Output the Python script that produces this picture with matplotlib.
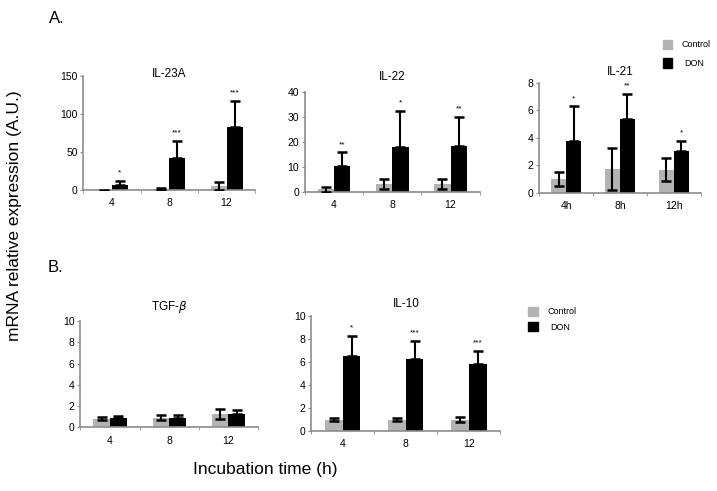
import numpy as np
import matplotlib
matplotlib.use('Agg')
import matplotlib.pyplot as plt

plt.rcParams['font.family'] = ['Liberation Sans', 'DejaVu Sans']

# data: control / DON means and errors per panel
hours = ['4', '8', '12']
hours_h = ['4h', '8h', '12h']

il23_ctrl = [-1, 1, 5]
il23_ctrl_err = [1, 1, 5]
il23_don = [7, 42, 83]
il23_don_err = [5, 23, 34]
il23_stars = ['*', '***', '***']

il22_ctrl = [1, 3, 3]
il22_ctrl_err = [1, 2, 2]
il22_don = [10.5, 18, 18.5]
il22_don_err = [5.5, 14.5, 11.5]
il22_stars = ['**', '*', '**']

il21_ctrl = [1.0, 1.75, 1.7]
il21_ctrl_err = [0.5, 1.5, 0.85]
il21_don = [3.8, 5.4, 3.05]
il21_don_err = [2.5, 1.8, 0.75]
il21_stars = ['*', '**', '*']

tgf_ctrl = [0.8, 0.9, 1.25]
tgf_ctrl_err = [0.15, 0.25, 0.45]
tgf_don = [0.9, 0.85, 1.2]
tgf_don_err = [0.2, 0.3, 0.4]

il10_ctrl = [1.0, 1.0, 1.0]
il10_ctrl_err = [0.15, 0.1, 0.2]
il10_don = [6.5, 6.3, 5.8]
il10_don_err = [1.8, 1.5, 1.2]
il10_stars = ['*', '***', '***']

grey = '#b3b3b3'
axcol = '#8c8c8c'


def panel(rect, title, labels, ctrl, ctrl_err, don, don_err, ymax, ystep, stars=None, title_y=1.02):
    ax = fig.add_axes(rect)
    x = np.arange(len(labels))
    w = 0.28
    ax.bar(x - w / 2, ctrl, w, color=grey, zorder=2)
    ax.bar(x + w / 2, don, w, color='black', zorder=2)
    ax.errorbar(x - w / 2, ctrl, yerr=ctrl_err, fmt='none', ecolor='black',
                elinewidth=1.5, capsize=3.5, capthick=1.8, zorder=3)
    ax.errorbar(x + w / 2, don, yerr=[np.zeros(len(don)), don_err], fmt='none',
                ecolor='black', elinewidth=1.5, capsize=3.5, capthick=1.8, zorder=3)
    if stars:
        for xi, d, e, s in zip(x, don, don_err, stars):
            ax.text(xi + w / 2, d + e + ymax * 0.04, s, ha='center', va='bottom', fontsize=6)
    ax.set_xlim(-0.5, len(labels) - 0.5)
    ax.set_ylim(0, ymax)
    ax.set_yticks(np.arange(0, ymax + 0.01, ystep))
    ax.set_xticks(x)
    ax.set_xticklabels(labels)
    ax.set_xticks(np.arange(-0.5, len(labels)), minor=True)
    ax.tick_params(axis='x', which='major', length=0, labelsize=7.5, pad=6)
    ax.tick_params(axis='x', which='minor', length=2, color=axcol)
    ax.tick_params(axis='y', length=2, color=axcol, labelsize=7.5, pad=2)
    for s in ['top', 'right']:
        ax.spines[s].set_visible(False)
    for s in ['left', 'bottom']:
        ax.spines[s].set_color(axcol)
        ax.spines[s].set_linewidth(1.2)
    ax.set_title(title, fontsize=8.5, y=title_y)
    return ax


fig = plt.figure(figsize=(7.17, 4.91), dpi=100)

panel([0.116, 0.613, 0.240, 0.232], 'IL-23A', hours, il23_ctrl, il23_ctrl_err,
      il23_don, il23_don_err, 150, 50, il23_stars, title_y=0.92)
panel([0.425, 0.609, 0.244, 0.204], 'IL-22', hours, il22_ctrl, il22_ctrl_err,
      il22_don, il22_don_err, 40, 10, il22_stars, title_y=1.03)
panel([0.752, 0.607, 0.225, 0.224], 'IL-21', hours_h, il21_ctrl, il21_ctrl_err,
      il21_don, il21_don_err, 8, 2, il21_stars, title_y=1.0)
panel([0.112, 0.130, 0.248, 0.216], 'TGF-$\\beta$', hours, tgf_ctrl, tgf_ctrl_err,
      tgf_don, tgf_don_err, 10, 2, None, title_y=1.03)
panel([0.434, 0.122, 0.264, 0.234], 'IL-10', hours, il10_ctrl, il10_ctrl_err,
      il10_don, il10_don_err, 10, 2, il10_stars, title_y=1.01)

# panel letters and axis labels
fig.text(0.068, 0.962, 'A.', fontsize=12, ha='left', va='center')
fig.text(0.066, 0.455, 'B.', fontsize=12, ha='left', va='center')
fig.text(0.02, 0.56, 'mRNA relative expression (A.U.)', rotation=90, fontsize=12.5,
         ha='center', va='center')
fig.text(0.37, 0.043, 'Incubation time (h)', fontsize=12.5, ha='center', va='center')

# legends drawn as squares + text
def legend(x0, y0, dy):
    fig.patches.append(plt.Rectangle((x0, y0), 0.013, 0.019, color=grey, transform=fig.transFigure))
    fig.patches.append(plt.Rectangle((x0, y0 - dy), 0.013, 0.019, color='black', transform=fig.transFigure))
    fig.text(x0 + 0.026, y0 + 0.009, 'Control', fontsize=6.5, va='center')
    fig.text(x0 + 0.030, y0 - dy + 0.009, 'DON', fontsize=6.5, va='center')

legend(0.924, 0.900, 0.038)
legend(0.737, 0.356, 0.031)

fig.savefig('out.png', dpi=100)
